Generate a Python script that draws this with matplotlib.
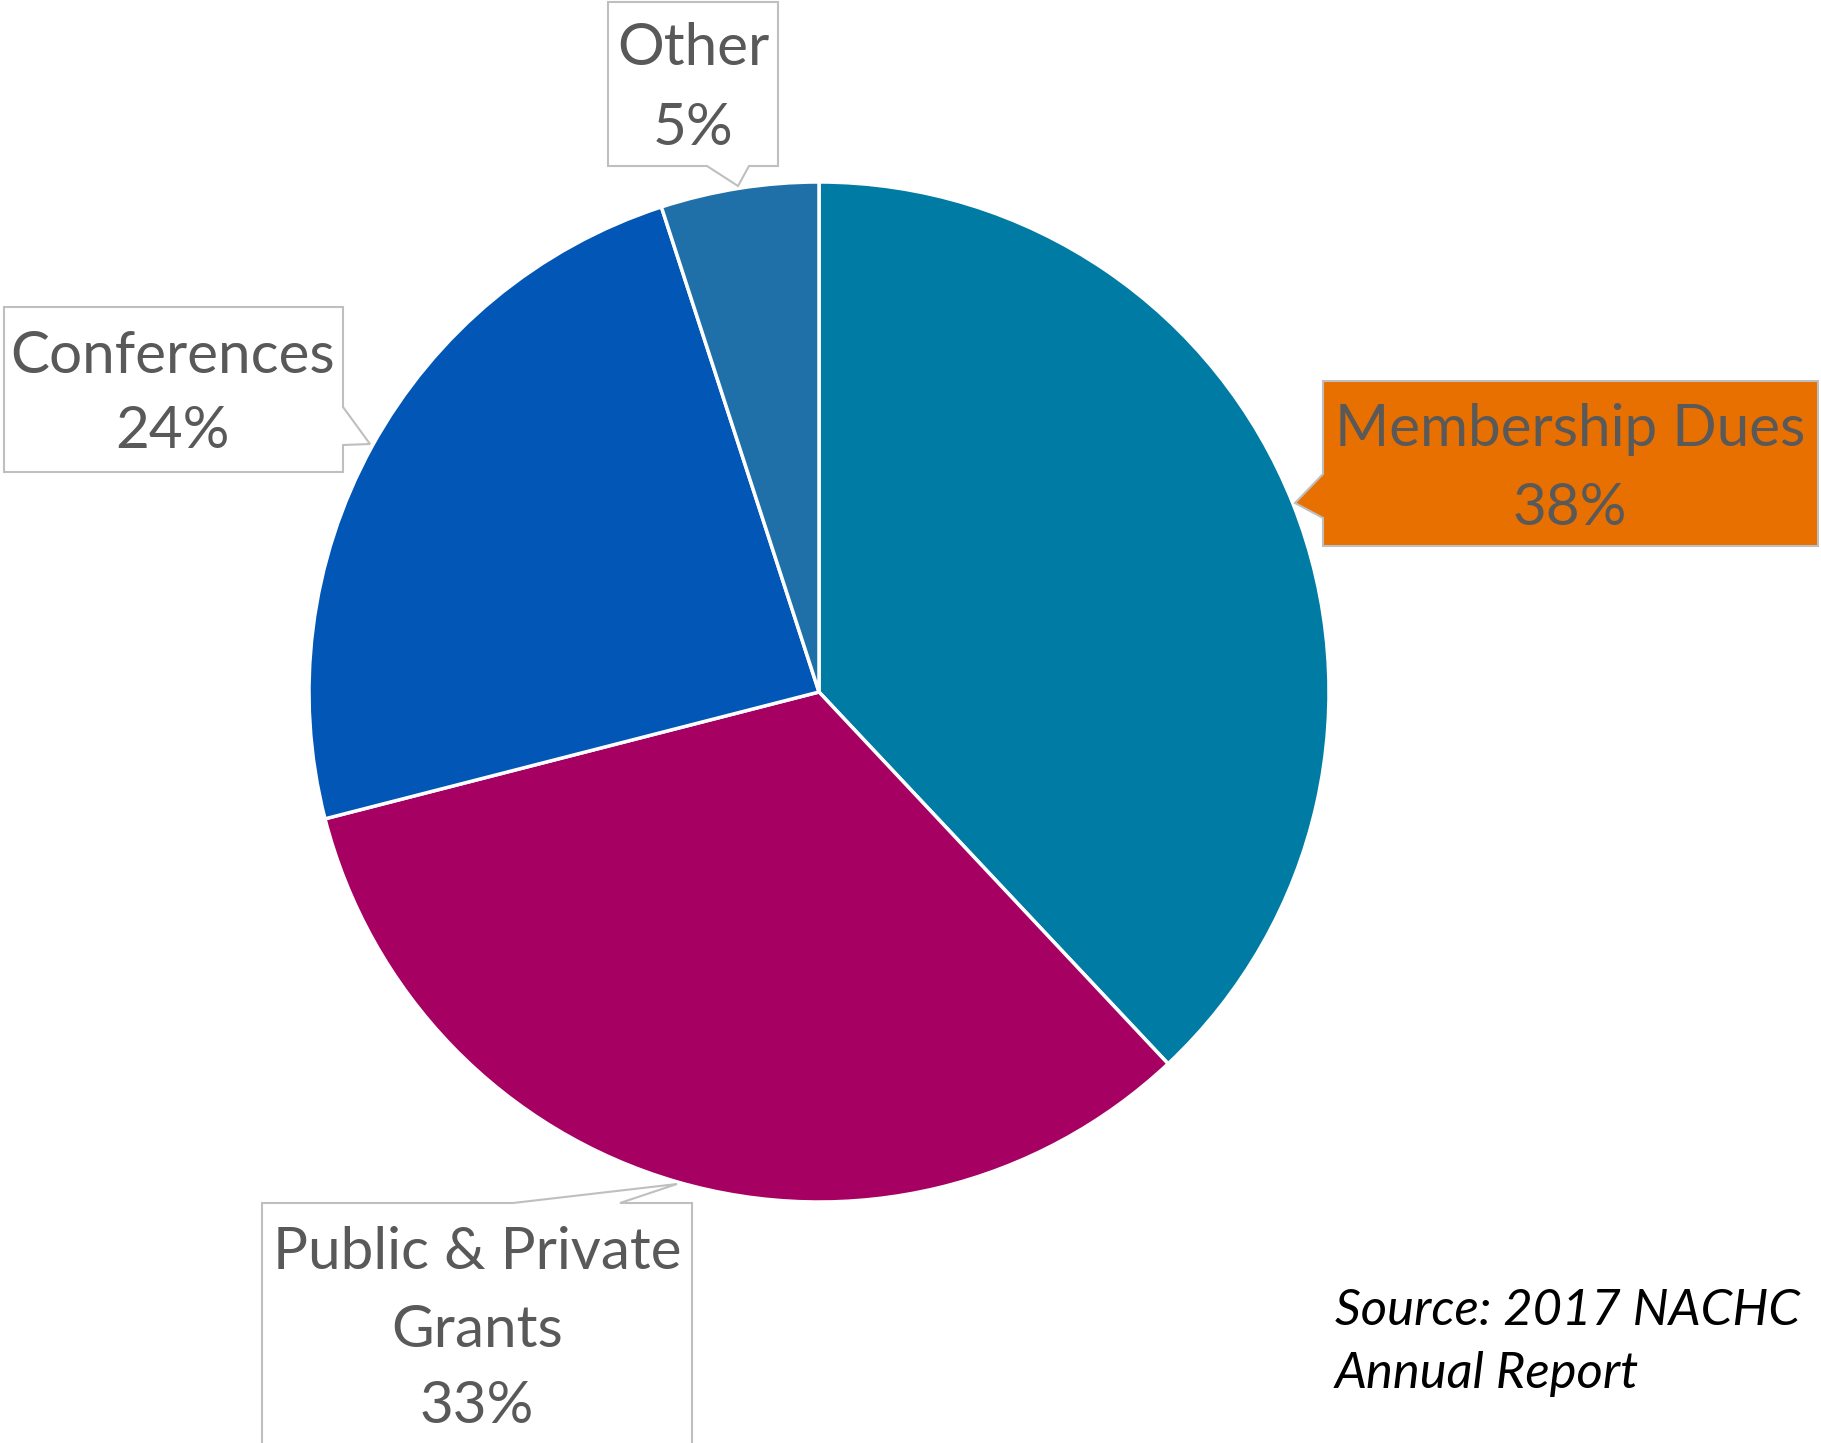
import matplotlib
matplotlib.use("Agg")
import matplotlib.pyplot as plt
from matplotlib.patches import Polygon

# data
categories = ["Membership Dues", "Public & Private Grants", "Conferences", "Other"]
shares = [38, 33, 24, 5]
colors = ["#007BA4", "#A50062", "#0256B6", "#1F70A9"]

W, H = 1821, 1443
plt.rcParams['font.family'] = ['Lato', 'DejaVu Sans']

fig = plt.figure(figsize=(W / 100, H / 100), dpi=100)
ax = fig.add_axes([0, 0, 1, 1])

def fy(y):
    # image row -> axis y
    return H - y

ax.pie(shares, colors=colors, startangle=90, counterclock=False,
       center=(819, fy(692)), radius=510,
       wedgeprops=dict(edgecolor='white', linewidth=2.5))

ax.set_xlim(0, W)
ax.set_ylim(0, H)
ax.set_aspect('equal')
ax.set_axis_off()

txt_color = "#595959"
edge = "#BFBFBF"
fs = 42

# callout shapes (image pixel coords)
callouts = {
    "Other": [(608, 2), (778, 2), (778, 166), (749, 166), (738, 186), (707, 166), (608, 166)],
    "Conferences": [(4, 307), (343, 307), (343, 407), (370, 444), (343, 445), (343, 472), (4, 472)],
    "Membership Dues": [(1323, 381), (1818, 381), (1818, 546), (1323, 546), (1323, 518), (1295, 503), (1323, 474)],
    "Public & Private Grants": [(262, 1203), (513, 1203), (677, 1184), (620, 1203), (692, 1203), (692, 1450), (262, 1450)],
}
fills = {"Membership Dues": "#E87000"}

# label lines: x center, baselines
label_layout = {
    "Other": (693, [65, 145], ["Other"]),
    "Conferences": (173, [373, 448], ["Conferences"]),
    "Membership Dues": (1570, [446, 525], ["Membership Dues"]),
    "Public & Private Grants": (477, [1269, 1347, 1423], ["Public & Private", "Grants"]),
}

for cat, pct in zip(categories, shares):
    pts = [(x, fy(y)) for x, y in callouts[cat]]
    ax.add_patch(Polygon(pts, closed=True, facecolor=fills.get(cat, "white"),
                         edgecolor=edge, linewidth=1.5, zorder=3))
    xc, baselines, lines = label_layout[cat]
    lines = lines + [f"{pct}%"]
    for line, yb in zip(lines, baselines):
        ax.text(xc, fy(yb), line, ha='center', va='baseline', fontsize=fs,
                color=txt_color, zorder=4)

ax.text(1335, fy(1325), "Source: 2017 NACHC", ha='left', va='baseline',
        fontsize=36.5, style='italic', color='black')
ax.text(1335, fy(1388), "Annual Report", ha='left', va='baseline',
        fontsize=36.5, style='italic', color='black')

fig.savefig("out.png", dpi=100)
